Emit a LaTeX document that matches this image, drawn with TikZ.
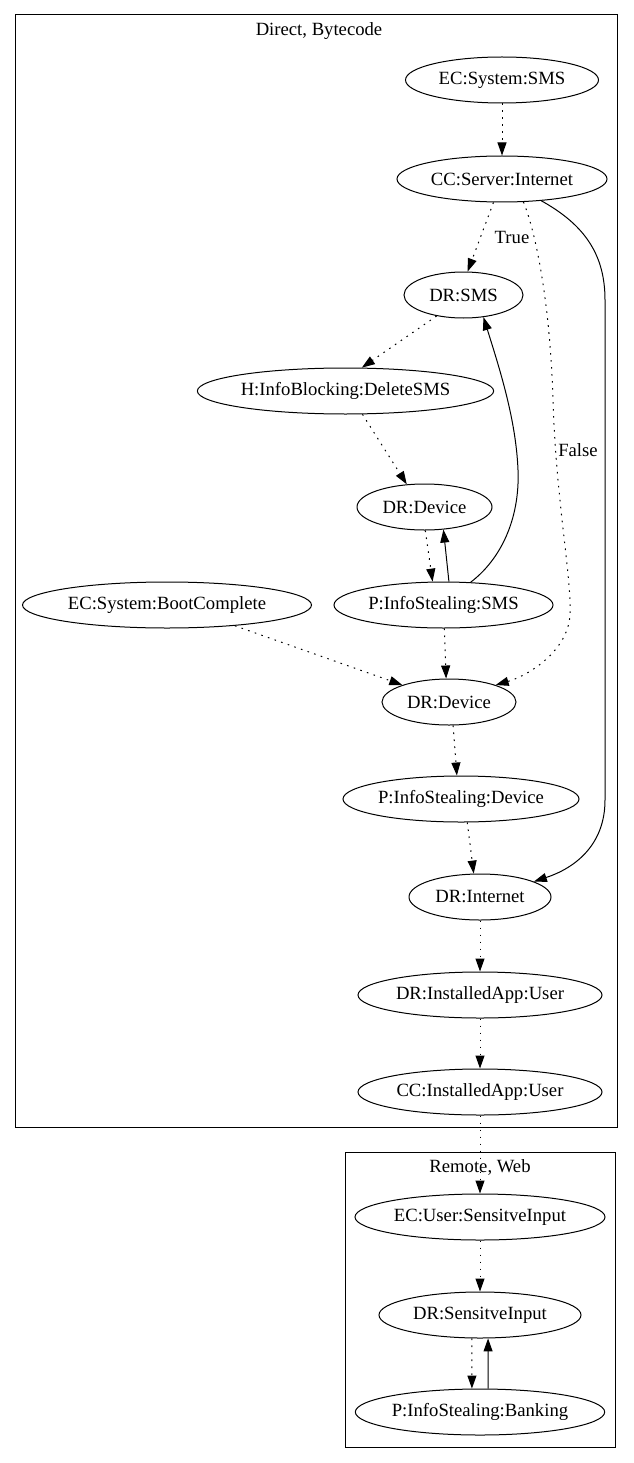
\documentclass[tikz,border=0pt]{standalone}
\usepackage{fontspec}
\setmainfont{Liberation Serif}
\usetikzlibrary{shapes.geometric,arrows.meta}
\begin{document}
\begin{tikzpicture}[x=1pt,y=-1pt,
  nd/.style={draw, ellipse, line width=1pt, minimum height=46pt, inner sep=0pt, font=\fontsize{18.67}{20}\selectfont},
  tip/.style={-{Triangle[length=13pt,width=9pt]}},
  dotl/.style={tip, line width=1pt, dash pattern=on 1.6pt off 5.4pt},
  sol/.style={tip, line width=1pt},
  lbl/.style={font=\fontsize{18.67}{20}\selectfont, inner sep=0pt},
  cl/.style={draw, line width=1pt}]
\useasboundingbox (0,0) rectangle (633,1463);
% clusters
\draw[cl] (15,15) rectangle (617,1127);
\node[lbl] (t1) at (319,31) {Direct, Bytecode};
\draw[cl] (345,1152) rectangle (615,1447);
\node[lbl] (t2) at (480,1167) {Remote, Web};
% nodes
\node[nd, minimum width=193pt] (ecsms) at (502,80) {EC:System:SMS};
\node[nd, minimum width=210pt] (ccsrv) at (502,179) {CC:Server:Internet};
\node[nd, minimum width=119pt] (drsms) at (463.5,295) {DR:SMS};
\node[nd, minimum width=293pt] (hblock) at (345.5,391) {H:InfoBlocking:DeleteSMS};
\node[nd, minimum width=135pt] (drdev1) at (424.5,507) {DR:Device};
\node[nd, minimum width=289pt] (ecboot) at (167,605) {EC:System:BootComplete};
\node[nd, minimum width=219pt] (psms) at (443.5,605) {P:InfoStealing:SMS};
\node[nd, minimum width=134pt] (drdev2) at (449,702) {DR:Device};
\node[nd, minimum width=236pt] (pdev) at (461,799) {P:InfoStealing:Device};
\node[nd, minimum width=142pt] (drint) at (480,897) {DR:Internet};
\node[nd, minimum width=244pt] (drapp) at (480,995) {DR:InstalledApp:User};
\node[nd, minimum width=244pt] (ccapp) at (480,1092) {CC:InstalledApp:User};
\node[nd, minimum width=250pt] (ecuser) at (480,1217) {EC:User:SensitveInput};
\node[nd, minimum width=202pt] (drsens) at (480,1315) {DR:SensitveInput};
\node[nd, minimum width=247pt] (pbank) at (480,1412) {P:InfoStealing:Banking};
% edges
\draw[dotl] (ecsms) -- (ccsrv);
\draw[dotl] (ccsrv.-110) -- (drsms.80);
\node[lbl] (ltrue) at (512,237) {True};
\draw[dotl] (ccsrv.-47) .. controls (535,230) and (550,300) .. (553,400) .. controls (556,500) and (572,580) .. (570,615) .. controls (568,650) and (530,675) .. (drdev2.20);
\node[lbl] (lfalse) at (578,450) {False};
\draw[sol] (ccsrv.-29) .. controls (585,225) and (605,255) .. (605,300) -- (605,800) .. controls (605,845) and (575,868) .. (drint.16);
\draw[dotl] (drsms.-142) -- (hblock.55);
\draw[dotl] (hblock.-54) -- (drdev1.128);
\draw[dotl] (drdev1.-88) -- (psms.115);
\draw[sol] (psms.77) -- (drdev1.-50);
\draw[sol] (psms.40) .. controls (500,560) and (520,520) .. (518,470) .. controls (516,420) and (500,370) .. (drsms.-48);
\draw[dotl] (ecboot.-17) -- (drdev2.160);
\draw[dotl] (psms.-88) -- (drdev2.97);
\draw[dotl] (drdev2.-80) -- (pdev.100);
\draw[dotl] (pdev.-75) -- (drint.105);
\draw[dotl] (drint) -- (drapp);
\draw[dotl] (drapp) -- (ccapp);
\draw[dotl] (ccapp) -- (ecuser);
\draw[dotl] (ecuser) -- (drsens);
\draw[dotl] (drsens.-109) -- (pbank.109);
\draw[sol] (pbank.71) -- (drsens.-71);
\end{tikzpicture}
\end{document}
